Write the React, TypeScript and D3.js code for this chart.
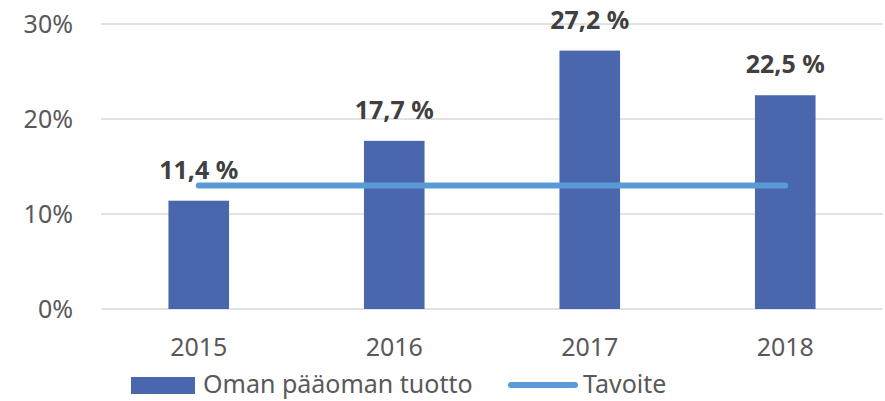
import { useMemo } from 'react';
import * as d3 from 'd3';

// chart data
const years = ['2015', '2016', '2017', '2018'];
const roe = [11.4, 17.7, 27.2, 22.5];
const target = [13, 13, 13, 13];
const yTicks = [0, 10, 20, 30];
const seriesNames = ['Oman pääoman tuotto', 'Tavoite'];

const W = 885;
const H = 401;
const FONT = "'Noto Sans', sans-serif";
const BAR = '#4a66ac';
const LINE = '#5b9bd5';

export default function App() {
	const x = useMemo(
		() => d3.scaleBand<string>().domain(years).range([101, 883]).paddingInner(0.69).paddingOuter(0.345),
		[]
	);
	const y = useMemo(() => d3.scaleLinear().domain([0, 30]).range([309, 24]), []);

	const center = (d: string) => (x(d) ?? 0) + x.bandwidth() / 2;

	const targetPath = d3
		.line<number>()
		.x((_, i) => center(years[i]))
		.y((d) => y(d))(target);

	const fmt = (v: number) => v.toFixed(1).replace('.', ',') + ' %';

	return (
		<svg
			width={W}
			height={H}
			style={{ position: 'absolute', left: 0, top: 0, background: '#fff' }}
			fontFamily={FONT}
		>
			{/* gridlines + y labels */}
			{yTicks.map((t) => (
				<g key={t}>
					<line x1={101} x2={883} y1={y(t)} y2={y(t)} stroke='#d9d9d9' strokeWidth={1.3} />
					<text x={73} y={y(t) + 8.5} textAnchor='end' fontSize={25} fill='#595959'>
						{t}%
					</text>
				</g>
			))}

			{/* bars */}
			{years.map((yr, i) => (
				<rect
					key={yr}
					x={x(yr)}
					y={y(roe[i])}
					width={x.bandwidth()}
					height={y(0) - y(roe[i])}
					fill={BAR}
				/>
			))}

			{/* target line */}
			<path d={targetPath ?? ''} fill='none' stroke={LINE} strokeWidth={6} strokeLinecap='round' />

			{/* data labels */}
			{years.map((yr, i) => (
				<text
					key={yr}
					x={center(yr)}
					y={y(roe[i]) - 22}
					textAnchor='middle'
					fontSize={25}
					fontWeight='bold'
					fill='#404040'
				>
					{fmt(roe[i])}
				</text>
			))}

			{/* x labels */}
			{years.map((yr) => (
				<text key={yr} x={center(yr)} y={356} textAnchor='middle' fontSize={25} fill='#595959'>
					{yr}
				</text>
			))}

			{/* legend */}
			<rect x={131} y={377} width={64} height={17} fill={BAR} />
			<text x={203} y={393} fontSize={25} fill='#595959'>
				{seriesNames[0]}
			</text>
			<line x1={511} x2={575} y1={385} y2={385} stroke={LINE} strokeWidth={6} strokeLinecap='round' />
			<text x={583} y={393} fontSize={25} fill='#595959'>
				{seriesNames[1]}
			</text>
		</svg>
	);
}
